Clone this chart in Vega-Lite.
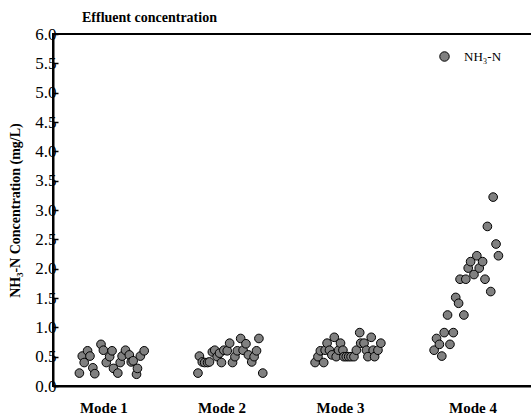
{
  "$schema": "https://vega.github.io/schema/vega-lite/v6.json",
  "autosize": "none",
  "padding": {"left": 53, "top": 34, "right": 0, "bottom": 32},
  "width": 480,
  "height": 352,
  "background": "white",
  "config": {
    "view": {"stroke": "black", "strokeWidth": 2},
    "font": "Liberation Serif, Times New Roman, serif"
  },
  "title": {
    "text": "Effluent concentration",
    "anchor": "start",
    "frame": "group",
    "dx": 29,
    "offset": 0,
    "font": "Liberation Serif, Times New Roman, serif",
    "fontSize": 14,
    "fontWeight": "bold",
    "color": "black"
  },
  "data": {
    "values": [
      {"mode": "Mode 1", "x": 5.5, "y": 0.22},
      {"mode": "Mode 1", "x": 6.1, "y": 0.51},
      {"mode": "Mode 1", "x": 6.5, "y": 0.40},
      {"mode": "Mode 1", "x": 7.2, "y": 0.60},
      {"mode": "Mode 1", "x": 7.7, "y": 0.51},
      {"mode": "Mode 1", "x": 8.3, "y": 0.31},
      {"mode": "Mode 1", "x": 8.7, "y": 0.21},
      {"mode": "Mode 1", "x": 10.0, "y": 0.71},
      {"mode": "Mode 1", "x": 10.5, "y": 0.61},
      {"mode": "Mode 1", "x": 11.1, "y": 0.40},
      {"mode": "Mode 1", "x": 11.8, "y": 0.50},
      {"mode": "Mode 1", "x": 12.3, "y": 0.60},
      {"mode": "Mode 1", "x": 12.6, "y": 0.30},
      {"mode": "Mode 1", "x": 13.5, "y": 0.22},
      {"mode": "Mode 1", "x": 14.0, "y": 0.40},
      {"mode": "Mode 1", "x": 14.4, "y": 0.51},
      {"mode": "Mode 1", "x": 15.1, "y": 0.61},
      {"mode": "Mode 1", "x": 15.9, "y": 0.53},
      {"mode": "Mode 1", "x": 16.3, "y": 0.41},
      {"mode": "Mode 1", "x": 16.7, "y": 0.43},
      {"mode": "Mode 1", "x": 17.4, "y": 0.20},
      {"mode": "Mode 1", "x": 17.6, "y": 0.30},
      {"mode": "Mode 1", "x": 18.2, "y": 0.51},
      {"mode": "Mode 1", "x": 19.0, "y": 0.60},
      {"mode": "Mode 2", "x": 30.2, "y": 0.22},
      {"mode": "Mode 2", "x": 30.5, "y": 0.51},
      {"mode": "Mode 2", "x": 31.1, "y": 0.41},
      {"mode": "Mode 2", "x": 31.6, "y": 0.40},
      {"mode": "Mode 2", "x": 32.2, "y": 0.40},
      {"mode": "Mode 2", "x": 32.6, "y": 0.41},
      {"mode": "Mode 2", "x": 33.2, "y": 0.58},
      {"mode": "Mode 2", "x": 33.7, "y": 0.61},
      {"mode": "Mode 2", "x": 34.2, "y": 0.50},
      {"mode": "Mode 2", "x": 34.7, "y": 0.56},
      {"mode": "Mode 2", "x": 35.1, "y": 0.40},
      {"mode": "Mode 2", "x": 35.6, "y": 0.61},
      {"mode": "Mode 2", "x": 36.3, "y": 0.60},
      {"mode": "Mode 2", "x": 36.8, "y": 0.73},
      {"mode": "Mode 2", "x": 37.4, "y": 0.40},
      {"mode": "Mode 2", "x": 37.9, "y": 0.50},
      {"mode": "Mode 2", "x": 38.4, "y": 0.60},
      {"mode": "Mode 2", "x": 39.1, "y": 0.81},
      {"mode": "Mode 2", "x": 39.6, "y": 0.61},
      {"mode": "Mode 2", "x": 40.2, "y": 0.72},
      {"mode": "Mode 2", "x": 40.7, "y": 0.53},
      {"mode": "Mode 2", "x": 41.4, "y": 0.41},
      {"mode": "Mode 2", "x": 41.9, "y": 0.50},
      {"mode": "Mode 2", "x": 42.4, "y": 0.60},
      {"mode": "Mode 2", "x": 42.9, "y": 0.81},
      {"mode": "Mode 2", "x": 43.7, "y": 0.22},
      {"mode": "Mode 3", "x": 54.6, "y": 0.40},
      {"mode": "Mode 3", "x": 55.2, "y": 0.50},
      {"mode": "Mode 3", "x": 55.7, "y": 0.60},
      {"mode": "Mode 3", "x": 56.4, "y": 0.40},
      {"mode": "Mode 3", "x": 56.7, "y": 0.61},
      {"mode": "Mode 3", "x": 57.1, "y": 0.73},
      {"mode": "Mode 3", "x": 57.6, "y": 0.61},
      {"mode": "Mode 3", "x": 58.1, "y": 0.53},
      {"mode": "Mode 3", "x": 58.6, "y": 0.83},
      {"mode": "Mode 3", "x": 59.0, "y": 0.50},
      {"mode": "Mode 3", "x": 59.5, "y": 0.61},
      {"mode": "Mode 3", "x": 59.9, "y": 0.73},
      {"mode": "Mode 3", "x": 60.4, "y": 0.61},
      {"mode": "Mode 3", "x": 60.6, "y": 0.50},
      {"mode": "Mode 3", "x": 61.1, "y": 0.50},
      {"mode": "Mode 3", "x": 61.6, "y": 0.50},
      {"mode": "Mode 3", "x": 62.1, "y": 0.50},
      {"mode": "Mode 3", "x": 62.7, "y": 0.50},
      {"mode": "Mode 3", "x": 63.2, "y": 0.61},
      {"mode": "Mode 3", "x": 63.9, "y": 0.91},
      {"mode": "Mode 3", "x": 64.1, "y": 0.73},
      {"mode": "Mode 3", "x": 64.8, "y": 0.73},
      {"mode": "Mode 3", "x": 65.3, "y": 0.61},
      {"mode": "Mode 3", "x": 65.6, "y": 0.50},
      {"mode": "Mode 3", "x": 66.3, "y": 0.83},
      {"mode": "Mode 3", "x": 66.7, "y": 0.61},
      {"mode": "Mode 3", "x": 67.0, "y": 0.50},
      {"mode": "Mode 3", "x": 67.7, "y": 0.61},
      {"mode": "Mode 3", "x": 68.3, "y": 0.73},
      {"mode": "Mode 4", "x": 79.4, "y": 0.61},
      {"mode": "Mode 4", "x": 79.9, "y": 0.81},
      {"mode": "Mode 4", "x": 80.5, "y": 0.71},
      {"mode": "Mode 4", "x": 81.0, "y": 0.51},
      {"mode": "Mode 4", "x": 81.5, "y": 0.91},
      {"mode": "Mode 4", "x": 82.2, "y": 1.21},
      {"mode": "Mode 4", "x": 82.7, "y": 0.71},
      {"mode": "Mode 4", "x": 83.4, "y": 0.91},
      {"mode": "Mode 4", "x": 83.9, "y": 1.51},
      {"mode": "Mode 4", "x": 84.5, "y": 1.41},
      {"mode": "Mode 4", "x": 84.8, "y": 1.82},
      {"mode": "Mode 4", "x": 85.6, "y": 1.21},
      {"mode": "Mode 4", "x": 86.0, "y": 1.82},
      {"mode": "Mode 4", "x": 86.5, "y": 2.01},
      {"mode": "Mode 4", "x": 87.0, "y": 2.12},
      {"mode": "Mode 4", "x": 87.7, "y": 1.90},
      {"mode": "Mode 4", "x": 88.3, "y": 2.22},
      {"mode": "Mode 4", "x": 88.8, "y": 2.01},
      {"mode": "Mode 4", "x": 89.5, "y": 2.12},
      {"mode": "Mode 4", "x": 90.0, "y": 1.82},
      {"mode": "Mode 4", "x": 90.5, "y": 2.72},
      {"mode": "Mode 4", "x": 91.2, "y": 1.61},
      {"mode": "Mode 4", "x": 91.7, "y": 3.22},
      {"mode": "Mode 4", "x": 92.3, "y": 2.42},
      {"mode": "Mode 4", "x": 92.8, "y": 2.22}
    ]
  },
  "transform": [{"calculate": "'NH₃-N'", "as": "series"}],
  "mark": {"type": "point", "filled": true, "size": 75, "stroke": "black", "strokeWidth": 1, "opacity": 1, "clip": false},
  "encoding": {
    "x": {
      "field": "x",
      "type": "quantitative",
      "scale": {"domain": [0, 100], "nice": false, "zero": false},
      "axis": {
        "values": [10.5, 35.1, 59.8, 87.4],
        "labelExpr": "datum.value < 20 ? 'Mode 1' : datum.value < 50 ? 'Mode 2' : datum.value < 70 ? 'Mode 3' : 'Mode 4'",
        "ticks": false,
        "grid": false,
        "domain": true,
        "domainColor": "black",
        "domainWidth": 2,
        "labelPadding": 14,
        "labelFont": "Liberation Serif, Times New Roman, serif",
        "labelFontSize": 15,
        "labelFontWeight": "bold",
        "labelColor": "black",
        "title": null
      }
    },
    "y": {
      "field": "y",
      "type": "quantitative",
      "scale": {"domain": [0, 6], "nice": false},
      "axis": {
        "values": [0, 0.5, 1, 1.5, 2, 2.5, 3, 3.5, 4, 4.5, 5, 5.5, 6],
        "format": ".1f",
        "grid": false,
        "domainColor": "black",
        "domainWidth": 2,
        "tickColor": "black",
        "tickWidth": 1.5,
        "tickSize": -5,
        "labelPadding": 2,
        "labelFont": "Liberation Serif, Times New Roman, serif",
        "labelFontSize": 17,
        "labelColor": "black",
        "title": "NH₃-N  Concentration (mg/L)",
        "titleFont": "Liberation Serif, Times New Roman, serif",
        "titleFontSize": 14,
        "titleFontWeight": "bold",
        "titleColor": "black",
        "titlePadding": 12
      }
    },
    "color": {
      "field": "series",
      "type": "nominal",
      "scale": {"range": ["#808080"]},
      "legend": {
        "title": null,
        "orient": "none",
        "legendX": 385,
        "legendY": 16,
        "padding": 0,
        "symbolType": "circle",
        "symbolSize": 90,
        "symbolFillColor": "#808080",
        "symbolStrokeColor": "black",
        "symbolStrokeWidth": 1,
        "labelFont": "Liberation Serif, Times New Roman, serif",
        "labelFontSize": 13,
        "labelColor": "black",
        "labelOffset": 13
      }
    }
  }
}
